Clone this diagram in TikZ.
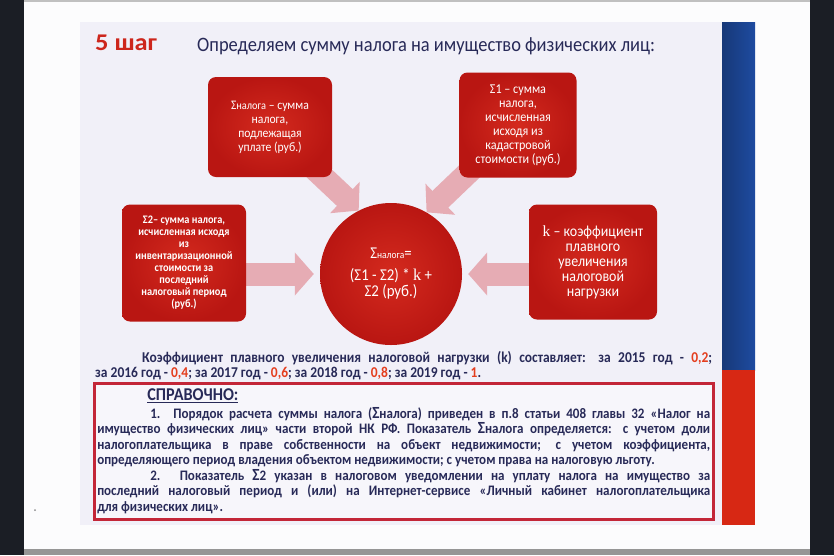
\documentclass[tikz,border=0pt]{standalone}
\usepackage{fontspec}
\setmainfont{Carlito}[FakeStretch=0.9]
\newfontfamily\stepfont{Carlito}[FakeStretch=1.1]
\newfontfamily\serifk{Liberation Serif}
\usepackage{tikz}
\usetikzlibrary{
  arrows.meta,
  positioning
}
\usepackage{xcolor}
\definecolor{bgdark}{RGB}{27, 30, 37}
\definecolor{pagewhite}{RGB}{252, 252, 253}
\definecolor{pagegray}{RGB}{150, 150, 150}
\definecolor{slidebg}{RGB}{241, 240, 248}
\definecolor{stripeblue}{RGB}{30, 75, 160}
\definecolor{stripered}{RGB}{215, 40, 20}
\definecolor{boxred}{RGB}{185, 22, 18}
\definecolor{boxredlight}{RGB}{212, 42, 30}
\definecolor{arrowpink}{RGB}{230, 172, 180}
\definecolor{textnavy}{RGB}{40, 42, 88}
\definecolor{stepred}{RGB}{205, 38, 28}
\definecolor{numred}{RGB}{228, 62, 30}
\definecolor{framered}{RGB}{195, 38, 56}
\pgfdeclarelayer{bg}
\pgfdeclarelayer{mid}
\pgfsetlayers{bg,mid,main}
\tikzset{
  % Bloklar
  redbox/.style    = {rounded corners=8pt, inner color=boxredlight, outer color=boxred,
                      text=white, align=center, inner sep=3pt,
                      font=\fontsize{13}{14}\selectfont},
  cadbox/.style    = {font=\fontsize{13.5}{14}\selectfont},
  leftbox/.style   = {font=\bfseries\fontsize{11.5}{12}\selectfont},
  rightbox/.style  = {font=\fontsize{15.5}{15}\selectfont},
  sumcircle/.style = {circle, minimum size=142pt, inner sep=0pt,
                      inner color=boxredlight, outer color=boxred,
                      text=white, align=center, font=\fontsize{16.5}{16.5}\selectfont},
  % Strelkalar
  blockarr/.style  = {line width=23pt, draw=arrowpink,
                      -{Triangle[length=19pt, width=42pt]}},
  % Matnlar
  steptitle/.style = {font=\stepfont\bfseries\fontsize{24}{24}\selectfont, text=stepred, inner sep=0pt},
  headtitle/.style = {font=\fontsize{20.5}{22}\selectfont, text=textnavy, inner sep=0pt},
  bodytext/.style  = {font=\bfseries\fontsize{15}{15}\selectfont, text=textnavy,
                      align=justify, inner sep=0pt},
  refbox/.style    = {draw=framered, line width=2.5pt, fill=slidebg!60!white,
                      font=\bfseries\fontsize{14.5}{15.5}\selectfont, text=textnavy,
                      align=justify, inner xsep=3pt, inner ysep=4pt},
}
\newcommand{\sgm}[2][11.5]{Σ{\fontsize{#1}{#1}\selectfont #2}}
\newcommand{\kval}[1]{\textcolor{numred}{#1}}
\newcommand{\bigs}{{\fontsize{17}{15}\selectfont Σ}}

\begin{document}
\begin{tikzpicture}[x=1pt, y=-1pt]
  \useasboundingbox (0,0) rectangle (834,555);
  % Fon
  \begin{pgfonlayer}{bg}
    \fill[bgdark] (0,0) rectangle (834,555);
    \fill[pagewhite] (24,0) rectangle (810,549);
    \fill[pagegray!60] (24,0) rectangle (810,1.5);
    \fill[pagegray] (24,549) rectangle (810,555);
    \fill[slidebg] (80,22) rectangle (722,525);
    \shade[left color=stripeblue!75!black, right color=stripeblue] (722,22) rectangle (755,370);
    \fill[stripered] (722,370) rectangle (755,525);
    \fill[black!45] (35,510) circle (1pt);
  \end{pgfonlayer}
  % Sarlavha
  \node[steptitle, anchor=base west] (step) at (95,50) {5 шаг};
  \node[headtitle, anchor=base west] (head) at (197,51) {Определяем сумму налога на имущество физических лиц:};
  % Bloklar
  \node[redbox, minimum width=124pt, minimum height=100pt] (sumtax) at (270,127)
    {\sgm{налога} – сумма\\ налога,\\ подлежащая\\ уплате (руб.)};
  \node[redbox, cadbox, minimum width=117pt, minimum height=105pt] (sumcad) at (518,125)
    {Σ1 – сумма\\ налога,\\ исчисленная\\ исходя из\\ кадастровой\\ стоимости (руб.)};
  \node[redbox, leftbox, minimum width=124pt, minimum height=117pt] (suminv) at (184,263)
    {Σ2– сумма налога,\\ исчисленная исходя\\ из\\ инвентаризационной\\ стоимости за\\ последний\\ налоговый период\\ (руб.)};
  \node[redbox, rightbox, minimum width=128pt, minimum height=115pt] (coefk) at (593,262)
    {{\serifk k} – коэффициент\\ плавного\\ увеличения\\ налоговой\\ нагрузки};
  \node[sumcircle] (total) at (391,274)
    {\sgm[10.5]{налога}=\\[5pt] (Σ1 - Σ2) * {\serifk k} +\\ Σ2 (руб.)};
  % Strelkalar
  \begin{pgfonlayer}{mid}
    \draw[blockarr] (sumtax.center) -- (total.117);
    \draw[blockarr] (sumcad.center) -- (total.60);
    \draw[blockarr, shorten >=6pt] (suminv.center |- total) -- (total.west);
    \draw[blockarr, shorten >=6pt] (coefk.center |- total) -- (total.east);
  \end{pgfonlayer}
  % Koeffitsiyentlar
  \node[bodytext, anchor=north west, text width=617pt] (coef) at (95,351)
    {\hspace*{47pt}Коэффициент плавного увеличения налоговой нагрузки (k) составляет: за 2015 год - \kval{0,2};\linebreak
     за 2016 год - \kval{0,4}; за 2017 год - \kval{0,6}; за 2018 год - \kval{0,8}; за 2019 год - \kval{1}.};
  % Spravochno
  \node[refbox, anchor=north west, text width=613pt, minimum height=136pt] (ref) at (93,382)
    {{\fontsize{18}{18}\selectfont\hspace*{50pt}\underline{СПРАВОЧНО:}}\par\vspace{2pt}
     \hspace*{53pt}1. Порядок расчета суммы налога (\bigs налога) приведен в п.8 статьи 408 главы 32 «Налог на\linebreak
     имущество физических лиц» части второй НК РФ. Показатель \bigs налога определяется: с учетом доли\linebreak
     налогоплательщика в праве собственности на объект недвижимости; с учетом коэффициента,\linebreak
     определяющего период владения объектом недвижимости; с учетом права на налоговую льготу.\par
     \hspace*{53pt}2. Показатель \bigs 2 указан в налоговом уведомлении на уплату налога на имущество за\linebreak
     последний налоговый период и (или) на Интернет-сервисе «Личный кабинет налогоплательщика\linebreak
     для физических лиц».};
\end{tikzpicture}
\end{document}
